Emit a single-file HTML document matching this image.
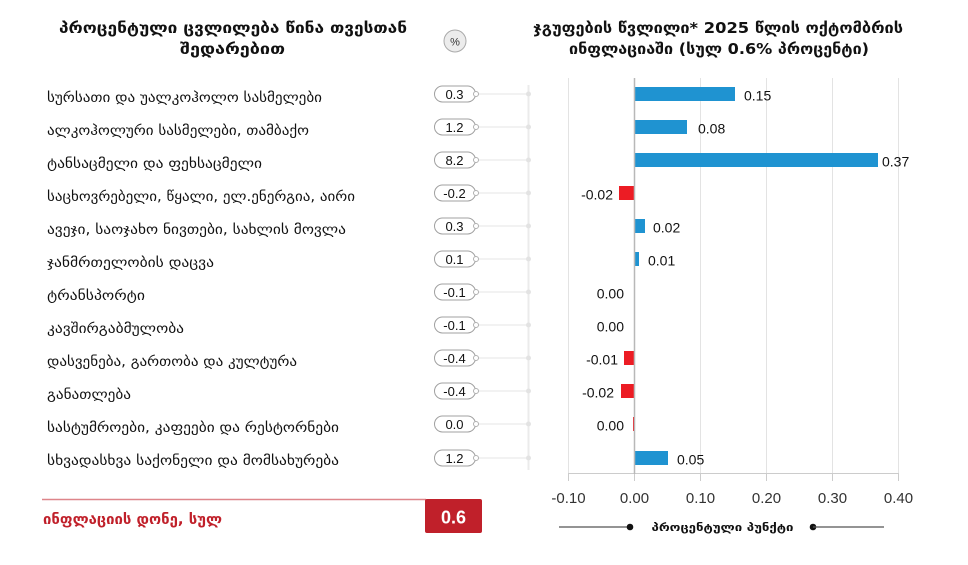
<!DOCTYPE html>
<html><head><meta charset="utf-8"><style>
html,body{margin:0;padding:0;background:#fff;}
svg{display:block;}
.geo{font-family:"DejaVu Sans","Liberation Sans",sans-serif;}
.num{font-family:"Liberation Sans","DejaVu Sans",sans-serif;}
</style></head><body>
<svg width="968" height="565" viewBox="0 0 968 565" xmlns="http://www.w3.org/2000/svg">
<rect width="968" height="565" fill="#fff"/>
<!-- Left title -->
<g class="geo" font-weight="bold" font-size="15" fill="#111" text-anchor="middle">
<text x="233" y="33" textLength="348" lengthAdjust="spacingAndGlyphs">პროცენტული ცვლილება წინა თვესთან</text>
<text x="232.5" y="54" textLength="105" lengthAdjust="spacingAndGlyphs">შედარებით</text>
</g>
<circle cx="455" cy="41" r="11" fill="#ececec" stroke="#aaa" stroke-width="1"/>
<text x="455" y="45.5" class="num" font-size="11" text-anchor="middle" fill="#333">%</text>
<!-- Right title -->
<g class="geo" font-weight="bold" font-size="15" fill="#111" text-anchor="middle">
<text x="718" y="33" textLength="370" lengthAdjust="spacingAndGlyphs">ჯგუფების წვლილი* 2025 წლის ოქტომბრის</text>
<text x="719" y="54" textLength="300" lengthAdjust="spacingAndGlyphs">ინფლაციაში (სულ 0.6% პროცენტი)</text>
</g>
<!-- vertical connector line -->
<line x1="528.5" y1="85" x2="528.5" y2="470" stroke="#ebebeb" stroke-width="2"/>
<!-- gridlines right -->
<g stroke="#e3e3e3" stroke-width="1">
<line x1="568.5" y1="78" x2="568.5" y2="473"/>
<line x1="700.5" y1="78" x2="700.5" y2="473"/>
<line x1="766.5" y1="78" x2="766.5" y2="473"/>
<line x1="832.5" y1="78" x2="832.5" y2="473"/>
<line x1="898.5" y1="78" x2="898.5" y2="473"/>
</g>
<line x1="568" y1="473.5" x2="899" y2="473.5" stroke="#ccc" stroke-width="1"/>
<g stroke="#ccc" stroke-width="1">
<line x1="568.5" y1="473" x2="568.5" y2="481"/>
<line x1="634.5" y1="473" x2="634.5" y2="481"/>
<line x1="700.5" y1="473" x2="700.5" y2="481"/>
<line x1="766.5" y1="473" x2="766.5" y2="481"/>
<line x1="832.5" y1="473" x2="832.5" y2="481"/>
<line x1="898.5" y1="473" x2="898.5" y2="481"/>
</g>
<g class="num" font-size="15" fill="#333" text-anchor="middle">
<text x="568.5" y="503">-0.10</text>
<text x="634.5" y="503">0.00</text>
<text x="700.5" y="503">0.10</text>
<text x="766.5" y="503">0.20</text>
<text x="832.5" y="503">0.30</text>
<text x="898.5" y="503">0.40</text>
</g>

<!-- Rows -->
<g id="rows">
<!-- row template: center y -->
<!-- Row 1 -->
<g>
<text x="47" y="102" class="geo" font-size="14" fill="#111" textLength="275" lengthAdjust="spacingAndGlyphs">სურსათი და უალკოჰოლო სასმელები</text>
<rect x="434.5" y="86" width="41" height="16" rx="8" fill="#fff" stroke="#a0a0a0"/>
<text x="454.5" y="99" class="num" font-size="13" fill="#111" text-anchor="middle">0.3</text>
<line x1="478" y1="94" x2="528" y2="94" stroke="#e6e6e6"/><circle cx="476" cy="94" r="2.5" fill="#fff" stroke="#b0b0b0"/><circle cx="528.5" cy="94" r="2.5" fill="#e3e3e3"/>
<rect x="634" y="87" width="101" height="14" fill="#1f93d1"/>
<text x="744" y="100.5" class="num" font-size="14" fill="#111">0.15</text>
</g>
<!-- Row 2 -->
<g>
<text x="47" y="135" class="geo" font-size="14" fill="#111" textLength="262" lengthAdjust="spacingAndGlyphs">ალკოჰოლური სასმელები, თამბაქო</text>
<rect x="434.5" y="119" width="41" height="16" rx="8" fill="#fff" stroke="#a0a0a0"/>
<text x="454.5" y="132" class="num" font-size="13" fill="#111" text-anchor="middle">1.2</text>
<line x1="478" y1="127" x2="528" y2="127" stroke="#e6e6e6"/><circle cx="476" cy="127" r="2.5" fill="#fff" stroke="#b0b0b0"/><circle cx="528.5" cy="127" r="2.5" fill="#e3e3e3"/>
<rect x="634" y="120" width="53" height="14" fill="#1f93d1"/>
<text x="698" y="133.5" class="num" font-size="14" fill="#111">0.08</text>
</g>
<!-- Row 3 -->
<g>
<text x="47" y="168" class="geo" font-size="14" fill="#111" textLength="215" lengthAdjust="spacingAndGlyphs">ტანსაცმელი და ფეხსაცმელი</text>
<rect x="434.5" y="152" width="41" height="16" rx="8" fill="#fff" stroke="#a0a0a0"/>
<text x="454.5" y="165" class="num" font-size="13" fill="#111" text-anchor="middle">8.2</text>
<line x1="478" y1="160" x2="528" y2="160" stroke="#e6e6e6"/><circle cx="476" cy="160" r="2.5" fill="#fff" stroke="#b0b0b0"/><circle cx="528.5" cy="160" r="2.5" fill="#e3e3e3"/>
<rect x="634" y="153" width="244" height="14" fill="#1f93d1"/>
<text x="882" y="166.5" class="num" font-size="14" fill="#111">0.37</text>
</g>
<!-- Row 4 -->
<g>
<text x="47" y="201" class="geo" font-size="14" fill="#111" textLength="308" lengthAdjust="spacingAndGlyphs">საცხოვრებელი, წყალი, ელ.ენერგია, აირი</text>
<rect x="434.5" y="185" width="41" height="16" rx="8" fill="#fff" stroke="#a0a0a0"/>
<text x="454.5" y="198" class="num" font-size="13" fill="#111" text-anchor="middle">-0.2</text>
<line x1="478" y1="193" x2="528" y2="193" stroke="#e6e6e6"/><circle cx="476" cy="193" r="2.5" fill="#fff" stroke="#b0b0b0"/><circle cx="528.5" cy="193" r="2.5" fill="#e3e3e3"/>
<rect x="619" y="186" width="15" height="14" fill="#ec1c24"/>
<text x="613" y="199.5" class="num" font-size="14" fill="#111" text-anchor="end">-0.02</text>
</g>
<!-- Row 5 -->
<g>
<text x="47" y="234" class="geo" font-size="14" fill="#111" textLength="299" lengthAdjust="spacingAndGlyphs">ავეჯი, საოჯახო ნივთები, სახლის მოვლა</text>
<rect x="434.5" y="218" width="41" height="16" rx="8" fill="#fff" stroke="#a0a0a0"/>
<text x="454.5" y="231" class="num" font-size="13" fill="#111" text-anchor="middle">0.3</text>
<line x1="478" y1="226" x2="528" y2="226" stroke="#e6e6e6"/><circle cx="476" cy="226" r="2.5" fill="#fff" stroke="#b0b0b0"/><circle cx="528.5" cy="226" r="2.5" fill="#e3e3e3"/>
<rect x="634" y="219" width="11" height="14" fill="#1f93d1"/>
<text x="653" y="232.5" class="num" font-size="14" fill="#111">0.02</text>
</g>
<!-- Row 6 -->
<g>
<text x="47" y="267" class="geo" font-size="14" fill="#111" textLength="167" lengthAdjust="spacingAndGlyphs">ჯანმრთელობის დაცვა</text>
<rect x="434.5" y="251" width="41" height="16" rx="8" fill="#fff" stroke="#a0a0a0"/>
<text x="454.5" y="264" class="num" font-size="13" fill="#111" text-anchor="middle">0.1</text>
<line x1="478" y1="259" x2="528" y2="259" stroke="#e6e6e6"/><circle cx="476" cy="259" r="2.5" fill="#fff" stroke="#b0b0b0"/><circle cx="528.5" cy="259" r="2.5" fill="#e3e3e3"/>
<rect x="634" y="252" width="5" height="14" fill="#1f93d1"/>
<text x="648" y="265.5" class="num" font-size="14" fill="#111">0.01</text>
</g>
<!-- Row 7 -->
<g>
<text x="47" y="300" class="geo" font-size="14" fill="#111" textLength="98" lengthAdjust="spacingAndGlyphs">ტრანსპორტი</text>
<rect x="434.5" y="284" width="41" height="16" rx="8" fill="#fff" stroke="#a0a0a0"/>
<text x="454.5" y="297" class="num" font-size="13" fill="#111" text-anchor="middle">-0.1</text>
<line x1="478" y1="292" x2="528" y2="292" stroke="#e6e6e6"/><circle cx="476" cy="292" r="2.5" fill="#fff" stroke="#b0b0b0"/><circle cx="528.5" cy="292" r="2.5" fill="#e3e3e3"/>
<text x="624" y="298.5" class="num" font-size="14" fill="#111" text-anchor="end">0.00</text>
</g>
<!-- Row 8 -->
<g>
<text x="47" y="333" class="geo" font-size="14" fill="#111" textLength="137" lengthAdjust="spacingAndGlyphs">კავშირგაბმულობა</text>
<rect x="434.5" y="317" width="41" height="16" rx="8" fill="#fff" stroke="#a0a0a0"/>
<text x="454.5" y="330" class="num" font-size="13" fill="#111" text-anchor="middle">-0.1</text>
<line x1="478" y1="325" x2="528" y2="325" stroke="#e6e6e6"/><circle cx="476" cy="325" r="2.5" fill="#fff" stroke="#b0b0b0"/><circle cx="528.5" cy="325" r="2.5" fill="#e3e3e3"/>
<text x="624" y="331.5" class="num" font-size="14" fill="#111" text-anchor="end">0.00</text>
</g>
<!-- Row 9 -->
<g>
<text x="47" y="366" class="geo" font-size="14" fill="#111" textLength="250" lengthAdjust="spacingAndGlyphs">დასვენება, გართობა და კულტურა</text>
<rect x="434.5" y="350" width="41" height="16" rx="8" fill="#fff" stroke="#a0a0a0"/>
<text x="454.5" y="363" class="num" font-size="13" fill="#111" text-anchor="middle">-0.4</text>
<line x1="478" y1="358" x2="528" y2="358" stroke="#e6e6e6"/><circle cx="476" cy="358" r="2.5" fill="#fff" stroke="#b0b0b0"/><circle cx="528.5" cy="358" r="2.5" fill="#e3e3e3"/>
<rect x="624" y="351" width="10" height="14" fill="#ec1c24"/>
<text x="618" y="364.5" class="num" font-size="14" fill="#111" text-anchor="end">-0.01</text>
</g>
<!-- Row 10 -->
<g>
<text x="47" y="399" class="geo" font-size="14" fill="#111" textLength="84" lengthAdjust="spacingAndGlyphs">განათლება</text>
<rect x="434.5" y="383" width="41" height="16" rx="8" fill="#fff" stroke="#a0a0a0"/>
<text x="454.5" y="396" class="num" font-size="13" fill="#111" text-anchor="middle">-0.4</text>
<line x1="478" y1="391" x2="528" y2="391" stroke="#e6e6e6"/><circle cx="476" cy="391" r="2.5" fill="#fff" stroke="#b0b0b0"/><circle cx="528.5" cy="391" r="2.5" fill="#e3e3e3"/>
<rect x="621" y="384" width="13" height="14" fill="#ec1c24"/>
<text x="614" y="397.5" class="num" font-size="14" fill="#111" text-anchor="end">-0.02</text>
</g>
<!-- Row 11 -->
<g>
<text x="47" y="432" class="geo" font-size="14" fill="#111" textLength="292" lengthAdjust="spacingAndGlyphs">სასტუმროები, კაფეები და რესტორნები</text>
<rect x="434.5" y="416" width="41" height="16" rx="8" fill="#fff" stroke="#a0a0a0"/>
<text x="454.5" y="429" class="num" font-size="13" fill="#111" text-anchor="middle">0.0</text>
<line x1="478" y1="424" x2="528" y2="424" stroke="#e6e6e6"/><circle cx="476" cy="424" r="2.5" fill="#fff" stroke="#b0b0b0"/><circle cx="528.5" cy="424" r="2.5" fill="#e3e3e3"/>
<rect x="633" y="417" width="1.2" height="14" fill="#ec1c24"/>
<text x="624" y="430.5" class="num" font-size="14" fill="#111" text-anchor="end">0.00</text>
</g>
<!-- Row 12 -->
<g>
<text x="47" y="465" class="geo" font-size="14" fill="#111" textLength="292" lengthAdjust="spacingAndGlyphs">სხვადასხვა საქონელი და მომსახურება</text>
<rect x="434.5" y="450" width="41" height="16" rx="8" fill="#fff" stroke="#a0a0a0"/>
<text x="454.5" y="463" class="num" font-size="13" fill="#111" text-anchor="middle">1.2</text>
<line x1="478" y1="458" x2="528" y2="458" stroke="#e6e6e6"/><circle cx="476" cy="458" r="2.5" fill="#fff" stroke="#b0b0b0"/><circle cx="528.5" cy="458" r="2.5" fill="#e3e3e3"/>
<rect x="634" y="451" width="34" height="14" fill="#1f93d1"/>
<text x="677" y="464.5" class="num" font-size="14" fill="#111">0.05</text>
</g>
</g>
<!-- zero line -->
<line x1="634.5" y1="78" x2="634.5" y2="474" stroke="#b8b8b8" stroke-width="1.5"/>

<!-- bottom left -->
<line x1="42" y1="499.5" x2="426" y2="499.5" stroke="#de858a" stroke-width="1.5"/>
<rect x="425" y="499" width="57" height="34" rx="2" fill="#c0202a"/>
<text x="453.5" y="523.5" class="num" font-size="18" font-weight="bold" fill="#fff" text-anchor="middle">0.6</text>
<text x="43" y="524" class="geo" font-size="14" font-weight="bold" fill="#c0202a" textLength="179" lengthAdjust="spacingAndGlyphs">ინფლაციის დონე, სულ</text>

<!-- legend bottom right -->
<line x1="559" y1="527" x2="630" y2="527" stroke="#555" stroke-width="1.2"/>
<circle cx="630" cy="527" r="3.3" fill="#111"/>
<text x="722.5" y="531" class="geo" font-size="11" font-weight="bold" fill="#111" text-anchor="middle" textLength="142" lengthAdjust="spacingAndGlyphs">პროცენტული პუნქტი</text>
<circle cx="813" cy="527" r="3.3" fill="#111"/>
<line x1="813" y1="527" x2="884" y2="527" stroke="#555" stroke-width="1.2"/>
</svg>
</body></html>
